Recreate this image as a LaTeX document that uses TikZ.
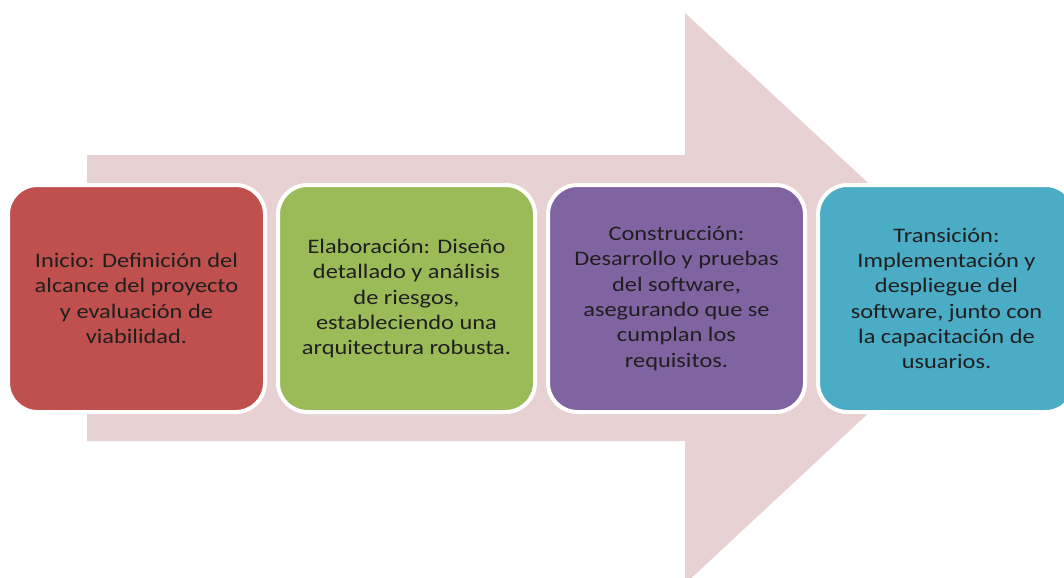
\documentclass[tikz,border=0pt]{standalone}
\usepackage{fontspec}
\setmainfont{Carlito}[FakeStretch=1.18]
\definecolor{arrowpink}{HTML}{E8D1D2}
\definecolor{fase1}{HTML}{C0504D}
\definecolor{fase2}{HTML}{9BBB59}
\definecolor{fase3}{HTML}{8064A2}
\definecolor{fase4}{HTML}{4BACC6}
\tikzstyle{fasebox} = [draw=white,line width=3pt,rounded corners=22pt,minimum width=192.75pt,minimum height=170.25pt,inner sep=0pt,align=center,text=black!88,font=\fontsize{15.5}{19}\selectfont]

\begin{document}
\begin{tikzpicture}[x=0.75pt,y=-0.75pt]
			\clip (0,0) rectangle (1064,578);
			\fill[arrowpink] (87,155) -- (685,155) -- (685,13) -- (992,298) -- (685,584) -- (685,441) -- (87,441) -- cycle;
			
			\node[fasebox,fill=fase1] (inicio) at (136.5,298.5) {Inicio: Definición del\\alcance del proyecto\\y evaluación de\\viabilidad.};
			\node[fasebox,fill=fase2] (elab) at (406.5,298.5) {Elaboración: Diseño\\detallado y análisis\\de riesgos,\\estableciendo una\\arquitectura robusta.};
			\node[fasebox,fill=fase3] (constr) at (676.5,298.5) {Construcción:\\Desarrollo y pruebas\\del software,\\asegurando que se\\cumplan los\\requisitos.};
			\node[fasebox,fill=fase4] (trans) at (946.5,298.5) {Transición:\\Implementación y\\despliegue del\\software, junto con\\la capacitación de\\usuarios.};
		\end{tikzpicture}
\end{document}
